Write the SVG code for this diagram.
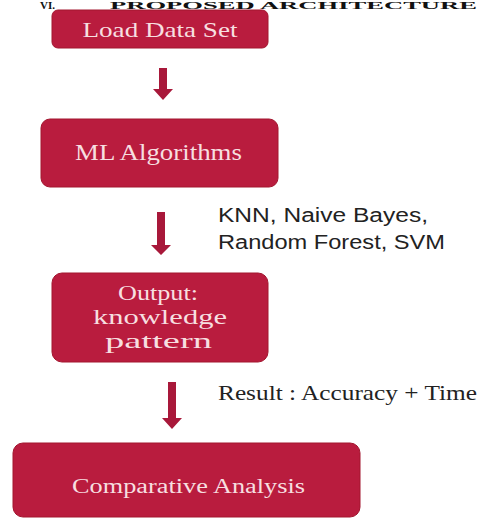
<svg xmlns="http://www.w3.org/2000/svg" width="491" height="519" viewBox="0 0 491 519">
<style>
.box{fill:#b91c3e;stroke:#a3162f;stroke-width:1}
.bt{font-family:"Liberation Serif","Times New Roman",serif;fill:#f7dfe0;text-anchor:middle}
.arr{fill:#a8183a}
.lbl{font-family:"Liberation Sans",Arial,sans-serif;fill:#222}
.lbs{font-family:"Liberation Serif","Times New Roman",serif;fill:#222}
.ttl{font-family:"Liberation Serif","Times New Roman",serif;font-weight:bold;fill:#111}
</style>
<rect width="491" height="519" fill="#ffffff"/>
<text class="ttl" x="40" y="8.5" font-size="11">VI.</text>
<text class="ttl" x="110" y="8.5" font-size="11" textLength="367" lengthAdjust="spacingAndGlyphs">PROPOSED ARCHITECTURE</text>
<g id="n1">
<rect class="box" x="52" y="10" width="216" height="38" rx="6"/>
<text class="bt" x="160" y="37" font-size="21" textLength="155" lengthAdjust="spacingAndGlyphs">Load Data Set</text>
</g>
<g id="n2">
<rect class="box" x="41" y="119" width="237" height="68" rx="9"/>
<text class="bt" x="158.5" y="160" font-size="23" textLength="167" lengthAdjust="spacingAndGlyphs">ML Algorithms</text>
</g>
<g id="n3">
<rect class="box" x="52" y="273" width="216" height="89" rx="10"/>
<text class="bt" x="158" y="300" font-size="21" textLength="80" lengthAdjust="spacingAndGlyphs">Output:</text>
<text class="bt" x="160" y="324" font-size="21" textLength="134" lengthAdjust="spacingAndGlyphs">knowledge</text>
<text class="bt" x="158.5" y="348" font-size="21" textLength="107" lengthAdjust="spacingAndGlyphs">pattern</text>
</g>
<g id="n4">
<rect class="box" x="13" y="443" width="347" height="74" rx="10"/>
<text class="bt" x="188.5" y="493" font-size="20" textLength="233" lengthAdjust="spacingAndGlyphs">Comparative Analysis</text>
</g>
<g id="connectors">
<polygon class="arr" points="159,68 167,68 167,89 173,89 163,100 153,89 159,89"/>
<polygon class="arr" points="157,212 165,212 165,245 171,245 161,255 151,245 157,245"/>
<polygon class="arr" points="168,382 176,382 176,418 182,418 172,429 162,418 168,418"/>
<text class="lbl" x="218" y="222" font-size="20" textLength="210" lengthAdjust="spacingAndGlyphs">KNN, Naive Bayes,</text>
<text class="lbl" x="218" y="249" font-size="20" textLength="227" lengthAdjust="spacingAndGlyphs">Random Forest, SVM</text>
<text class="lbs" x="218" y="400" font-size="21" textLength="259" lengthAdjust="spacingAndGlyphs">Result : Accuracy + Time</text>
</g>
</svg>
